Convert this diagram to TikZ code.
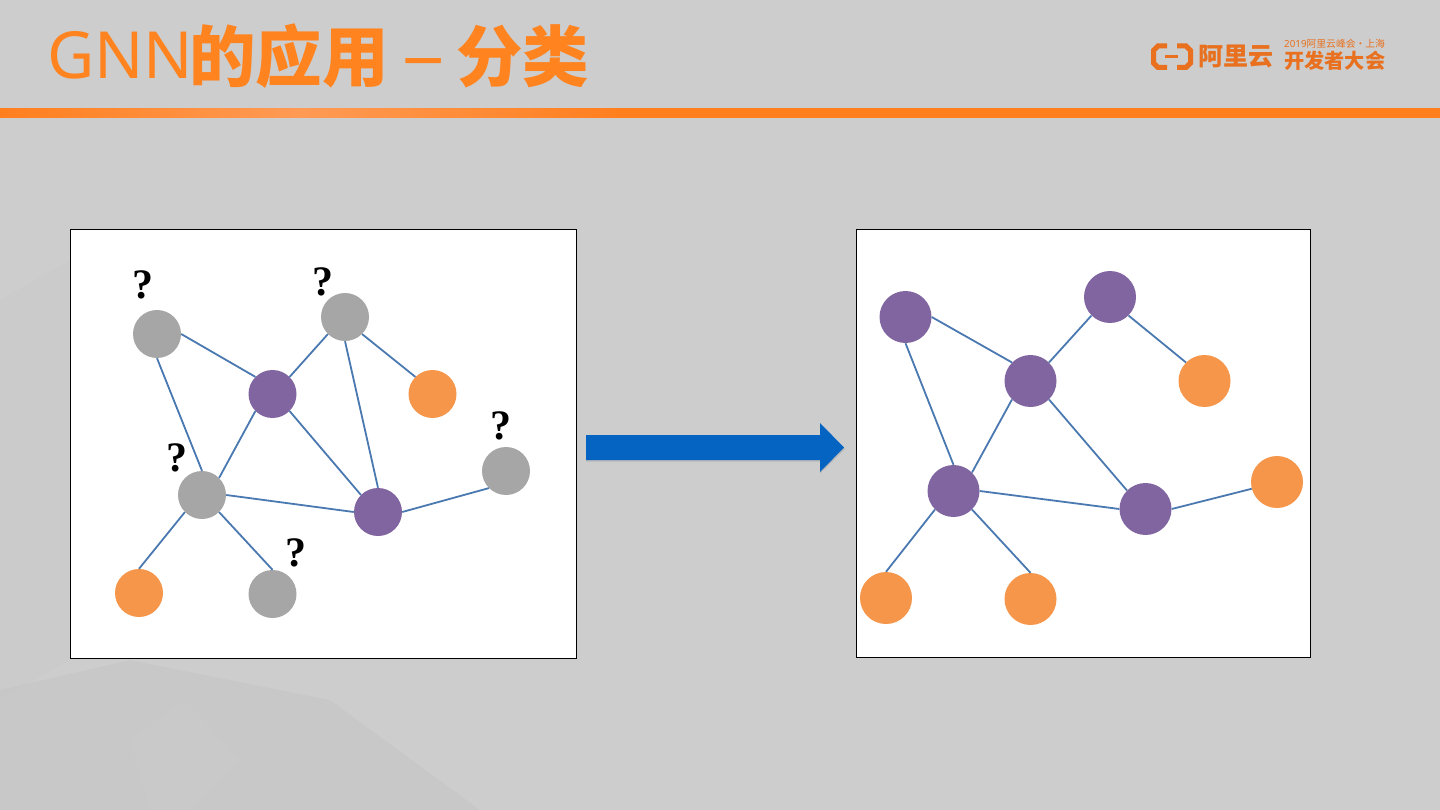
\documentclass[tikz,border=0pt]{standalone}
\usepackage{fontspec}
\setmainfont{Liberation Serif}
\newfontfamily\latinfont{Noto Sans}
\newfontfamily\cjkfont{Noto Sans CJK SC}
\usetikzlibrary{shadings}
\definecolor{slidebg}{HTML}{CDCDCD}
\definecolor{titleorange}{HTML}{FF8420}
\definecolor{logoorange}{HTML}{E8701E}
\definecolor{barorange}{HTML}{FF7F1E}
\definecolor{barlight}{HTML}{FF9A54}
\definecolor{nodepurple}{HTML}{8065A0}
\definecolor{nodeorange}{HTML}{F5964B}
\definecolor{nodegray}{HTML}{A6A6A6}
\definecolor{edgeblue}{HTML}{4A78B0}
\definecolor{arrowblue}{HTML}{0563C1}
\tikzset{
    panel/.style={draw=black, fill=white, line width=0.9pt},
    smalldot/.style={circle, inner sep=0pt, minimum size=48pt},
    bigdot/.style={circle, inner sep=0pt, minimum size=52pt},
    link/.style={draw=edgeblue, line width=1.8pt},
    query/.style={inner sep=0pt, font=\bfseries\fontsize{42}{42}\selectfont},
}
\begin{document}
\begin{tikzpicture}[x=1pt, y=-1pt]
    \useasboundingbox (0,0) rectangle (1440,810);
    \fill[slidebg] (0,0) rectangle (1440,810);
    % faint background facets
    \fill[black, opacity=0.008] (0,300) -- (70,260) -- (70,660) -- (0,700) -- cycle;
    \fill[black, opacity=0.02] (0,690) -- (130,660) -- (330,700) -- (480,810) -- (0,810) -- cycle;
    \fill[white, opacity=0.03] (130,740) -- (185,700) -- (240,760) -- (190,810) -- (150,810) -- cycle;
    \fill[white, opacity=0.015] (1000,810) -- (1130,680) -- (1300,810) -- cycle;

    % title and bar
    \node[anchor=base west, inner sep=0pt, text=titleorange] (title) at (47,79)
        {\fontsize{65}{65}\selectfont\latinfont GNN\kern-4pt\cjkfont\bfseries\fontsize{66.5}{66.5}\selectfont \raisebox{-2.5pt}{的应用}\hspace{14pt}\scalebox{1.3}[1]{\latinfont\bfseries\fontsize{65}{65}\selectfont –}\hspace{11pt}\raisebox{-2.5pt}{分类}};
    \shade[left color=barorange, right color=barlight] (0,108) rectangle (300,118);
    \shade[left color=barlight, right color=barorange] (300,108) rectangle (620,118);
    \fill[barorange] (620,108) rectangle (1440,118);
    \fill[slidebg] (0,104) rectangle (625,108);

    % logo
    \draw[logoorange, line width=5pt] (1167,46) -- (1158,46) -- (1153.5,50.5) -- (1153.5,63) -- (1158,67.5) -- (1167,67.5);
    \draw[logoorange, line width=5pt] (1177,46) -- (1186,46) -- (1190.5,50.5) -- (1190.5,63) -- (1186,67.5) -- (1177,67.5);
    \draw[logoorange, line width=2.4pt] (1165,56.5) -- (1178,56.5);
    \node[anchor=west, inner sep=0pt, text=logoorange] (brand) at (1198,57)
        {\fontsize{25}{25}\selectfont\cjkfont\bfseries 阿里云};
    \node[anchor=west, inner sep=0pt, text=logoorange] (summit) at (1284,44)
        {\fontsize{9.8}{9.8}\selectfont\latinfont 2019\cjkfont 阿里云峰会·上海};
    \node[anchor=west, inner sep=0pt, text=logoorange] (event) at (1284,61)
        {\fontsize{20.2}{20.2}\selectfont\cjkfont\bfseries 开发者大会};

    % left graph
    \draw[panel] (70.5,229.5) rectangle (576.5,658.5);
    \node[smalldot, fill=nodegray] (ga) at (157,334) {};
    \node[smalldot, fill=nodegray] (gb) at (345,317) {};
    \node[smalldot, fill=nodepurple] (pa) at (272.5,394) {};
    \node[smalldot, fill=nodeorange] (oa) at (432.5,394) {};
    \node[smalldot, fill=nodegray] (gc) at (506,471) {};
    \node[smalldot, fill=nodegray] (gd) at (202,495) {};
    \node[smalldot, fill=nodepurple] (pb) at (378,512) {};
    \node[smalldot, fill=nodeorange] (ob) at (139,593) {};
    \node[smalldot, fill=nodegray] (ge) at (272.5,594) {};
    \draw[link] (ga.east) -- (pa.north west);
    \draw[link] (ga.south) -- (gd.north);
    \draw[link] (gb.south west) -- (pa.north east);
    \draw[link] (gb.south east) -- (oa.north west);
    \draw[link] (gb.south) -- (pb.north);
    \draw[link] (pa.south west) -- (gd.north east);
    \draw[link] (pa.south east) -- (pb.north west);
    \draw[link] (gd.east) -- (pb.west);
    \draw[link] (pb.east) -- (gc.south west);
    \draw[link] (gd.south west) -- (ob.north);
    \draw[link] (gd.south east) -- (ge.north);
    \node[query] (qa) at (142.5,285) {?};
    \node[query] (qb) at (322.5,282) {?};
    \node[query] (qc) at (501,425.5) {?};
    \node[query] (qd) at (177,458) {?};
    \node[query] (qe) at (296,553) {?};

    % arrow
    \fill[black!28] (586,436.5) -- (820,436.5) -- (820,424.5) -- (845,449) -- (820,473.5) -- (820,461.5) -- (586,461.5) -- cycle;
    \fill[arrowblue] (586,435) -- (820,435) -- (820,423) -- (844,447.5) -- (820,472) -- (820,460) -- (586,460) -- cycle;

    % right graph
    \draw[panel] (856.5,229.5) rectangle (1310.5,657.5);
    \node[bigdot, fill=nodepurple] (ra) at (905.5,317) {};
    \node[bigdot, fill=nodepurple] (rb) at (1110,297) {};
    \node[bigdot, fill=nodepurple] (rc) at (1030.5,381) {};
    \node[bigdot, fill=nodeorange] (rd) at (1204.5,381) {};
    \node[bigdot, fill=nodeorange] (re) at (1277,482) {};
    \node[bigdot, fill=nodepurple] (rf) at (953.5,491) {};
    \node[bigdot, fill=nodepurple] (rg) at (1145.5,509) {};
    \node[bigdot, fill=nodeorange] (rh) at (886,598) {};
    \node[bigdot, fill=nodeorange] (ri) at (1030.5,599) {};
    \draw[link] (ra.east) -- (rc.north west);
    \draw[link] (ra.south) -- (rf.north);
    \draw[link] (rb.south west) -- (rc.north east);
    \draw[link] (rb.south east) -- (rd.north west);
    \draw[link] (rc.south west) -- (rf.north east);
    \draw[link] (rc.south east) -- (rg.north west);
    \draw[link] (rf.east) -- (rg.west);
    \draw[link] (rg.east) -- (re.195);
    \draw[link] (rf.south west) -- (rh.north);
    \draw[link] (rf.south east) -- (ri.north);
\end{tikzpicture}
\end{document}
